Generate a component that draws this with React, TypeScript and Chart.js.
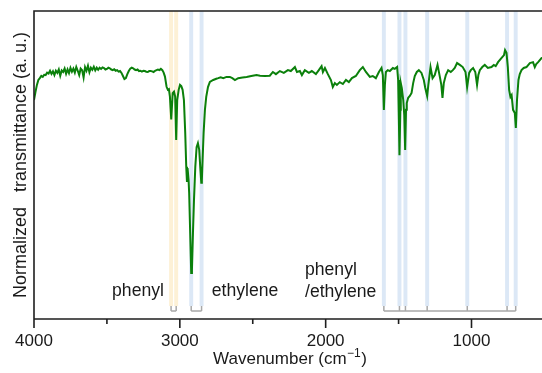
import React, { useEffect, useRef } from "react";
import { Chart, registerables } from "chart.js";
Chart.register(...registerables);

const wavenumbers = [
  4000, 3990, 3980, 3970, 3960, 3950, 3940, 3930, 3920, 3910, 3900, 3890, 3880, 3870, 3860, 3850, 3840, 3830, 3820, 3810,
  3800, 3790, 3780, 3770, 3760, 3750, 3740, 3730, 3720, 3710, 3700, 3690, 3680, 3670, 3660, 3650, 3640, 3630, 3620, 3610,
  3600, 3590, 3580, 3570, 3560, 3550, 3540, 3530, 3520, 3510, 3500, 3490, 3480, 3470, 3460, 3450, 3440, 3430, 3420, 3410,
  3400, 3390, 3380, 3370, 3360, 3350, 3340, 3330, 3320, 3310, 3300, 3290, 3280, 3270, 3260, 3250, 3240, 3230, 3220, 3210,
  3200, 3190, 3180, 3170, 3160, 3150, 3140, 3130, 3120, 3111, 3102, 3091, 3082, 3075, 3068, 3059, 3049, 3040, 3032, 3025,
  3018, 3008, 2999, 2990, 2981, 2972, 2963, 2956, 2951, 2947, 2940, 2936, 2929, 2922, 2917, 2910, 2903, 2894, 2885, 2876,
  2867, 2860, 2853, 2849, 2844, 2837, 2828, 2819, 2807, 2794, 2771, 2750, 2737, 2720, 2702, 2680, 2657, 2640, 2622, 2600,
  2570, 2542, 2510, 2474, 2450, 2417, 2383, 2362, 2341, 2314, 2287, 2259, 2239, 2211, 2197, 2177, 2163, 2143, 2115, 2095,
  2067, 2047, 2028, 2019, 2005, 1985, 1964, 1951, 1937, 1923, 1903, 1882, 1861, 1841, 1820, 1793, 1766, 1745, 1724, 1697,
  1677, 1656, 1635, 1617, 1608, 1601, 1594, 1587, 1574, 1560, 1539, 1526, 1510, 1503, 1498, 1494, 1488, 1485, 1478, 1468,
  1461, 1455, 1449, 1444, 1434, 1423, 1411, 1400, 1389, 1375, 1361, 1343, 1327, 1317, 1304, 1296, 1281, 1267, 1252, 1233,
  1217, 1207, 1199, 1190, 1176, 1160, 1142, 1128, 1115, 1099, 1080, 1060, 1041, 1030, 1016, 1005, 989, 974, 962, 953,
  943, 926, 909, 888, 863, 847, 834, 818, 795, 777, 770, 760, 751, 742, 733, 725, 715, 703, 696, 688,
  678, 669, 657, 642, 623, 600, 578, 566, 556, 543, 520, 500, 460, 420, 400,
];

const transmittance = [
  71.1, 73.7, 76.0, 77.6, 78.2, 78.9, 78.6, 79.3, 79.2, 80.0, 79.7, 80.6, 79.6, 80.4, 79.2, 80.6, 79.9, 81.0, 79.0, 80.7,
  80.2, 81.3, 79.6, 81.0, 79.8, 81.5, 80.3, 81.3, 80.0, 81.8, 80.6, 79.2, 81.3, 80.8, 78.4, 81.8, 80.6, 82.2, 80.1, 81.6,
  80.9, 81.9, 80.7, 81.6, 80.9, 81.6, 81.2, 81.7, 81.5, 81.0, 81.2, 81.6, 81.4, 81.0, 80.8, 81.1, 80.6, 80.8, 80.3, 80.5,
  79.9, 78.9, 77.9, 78.2, 79.5, 80.5, 81.3, 81.6, 81.4, 81.0, 80.8, 81.0, 80.5, 80.6, 80.3, 80.6, 80.5, 80.3, 80.2, 80.5,
  80.5, 80.4, 80.2, 80.6, 80.8, 81.0, 80.8, 81.2, 80.8, 80.0, 78.7, 75.4, 74.4, 74.6, 72.2, 64.8, 73.3, 73.8, 72.2, 58.1,
  71.1, 74.4, 76.0, 75.6, 74.4, 71.1, 60.4, 49.4, 44.5, 49.0, 45.1, 40.9, 27.9, 14.9, 15.9, 27.9, 38.6, 49.4, 55.8, 57.1,
  54.9, 49.4, 44.2, 45.1, 51.6, 60.4, 67.9, 72.1, 75.3, 77.0, 77.6, 78.0, 78.2, 78.5, 78.2, 78.6, 78.6, 78.2, 77.6, 78.2,
  78.4, 78.6, 78.9, 79.2, 79.0, 78.9, 79.0, 80.2, 79.5, 80.5, 79.9, 80.8, 80.5, 81.8, 80.2, 80.5, 79.2, 80.8, 79.9, 80.5,
  79.5, 80.8, 82.1, 80.2, 81.5, 79.5, 77.6, 75.3, 76.6, 76.0, 76.9, 76.3, 77.6, 76.9, 78.2, 78.9, 80.8, 81.8, 80.2, 78.6,
  78.9, 78.2, 80.2, 81.5, 79.2, 67.9, 76.0, 80.2, 80.8, 80.5, 81.5, 81.2, 81.8, 77.6, 64.6, 53.2, 67.9, 76.6, 75.0, 71.1,
  66.2, 54.9, 67.9, 70.1, 71.8, 72.4, 73.4, 76.6, 78.9, 80.2, 80.8, 79.9, 77.6, 75.0, 72.4, 76.0, 81.8, 78.2, 79.2, 82.5,
  78.6, 76.0, 71.8, 76.6, 79.2, 80.8, 80.2, 80.8, 81.5, 83.1, 82.5, 81.8, 80.2, 75.3, 79.9, 80.8, 81.5, 80.2, 76.0, 79.2,
  80.8, 81.8, 82.5, 81.5, 81.8, 82.5, 82.1, 83.4, 84.7, 85.7, 87.3, 86.4, 81.8, 74.4, 72.1, 72.7, 67.9, 66.9, 62.0, 71.1,
  77.6, 79.5, 80.8, 81.5, 81.8, 83.1, 83.4, 81.8, 82.8, 83.4, 84.7, 84.5, 85.0, 85.2, 85.0,
];

const phenylBands = [3060, 3025];
const ethyleneBands = [2922, 2851];
const mixedBands = [1601, 1494, 1453, 1304, 1029, 756, 697];
const majorTicks = [4000, 3000, 2000, 1000];
const minorTicks = [3500, 2500, 1500, 500];
const xTitleMain = "Wavenumber (cm";
const xTitleSup = "\u22121";
const xTitleEnd = ")";
const yTitle = "Normalized   transmittance (a. u.)";
const labelPhenyl = "phenyl";
const labelEthylene = "ethylene";
const labelMixed = ["phenyl", "/ethylene"];

const FONT = '"Liberation Sans", Arial, Helvetica, sans-serif';
const BAND_HALF = 13.5;
const BAND_BOTTOM = 4.2;
const BRACKET_Y = 2.6;

const bandsPlugin = {
  id: "bands",
  beforeDatasetsDraw(chart: any) {
    const { ctx, chartArea, scales } = chart;
    const x = scales.x;
    const y = scales.y;
    const bottom = y.getPixelForValue(BAND_BOTTOM);
    const by = y.getPixelForValue(BRACKET_Y);
    ctx.save();
    const band = (wn: number, color: string) => {
      const l = x.getPixelForValue(wn + BAND_HALF);
      const r = x.getPixelForValue(wn - BAND_HALF);
      ctx.fillStyle = color;
      ctx.fillRect(l, chartArea.top, r - l, bottom - chartArea.top);
    };
    phenylBands.forEach((b) => band(b, "#fdf1d6"));
    ethyleneBands.forEach((b) => band(b, "#dce8f6"));
    mixedBands.forEach((b) => band(b, "#dce8f6"));
    const bracket = (bands: number[]) => {
      const xs = bands.map((b) => x.getPixelForValue(b));
      ctx.beginPath();
      ctx.moveTo(xs[0], by);
      ctx.lineTo(xs[xs.length - 1], by);
      xs.forEach((px) => {
        ctx.moveTo(px, bottom);
        ctx.lineTo(px, by);
      });
      ctx.strokeStyle = "#a8a8a8";
      ctx.lineWidth = 1.5;
      ctx.stroke();
    };
    bracket(phenylBands);
    bracket(ethyleneBands);
    bracket(mixedBands);
    ctx.restore();
  },
  afterDraw(chart: any) {
    const { ctx, chartArea, scales } = chart;
    const x = scales.x;
    const { left, right, top, bottom } = chartArea;
    ctx.save();
    ctx.strokeStyle = "#1e1e1e";
    ctx.lineWidth = 1.6;
    ctx.beginPath();
    ctx.moveTo(left, bottom);
    ctx.lineTo(left, top);
    ctx.lineTo(right, top);
    ctx.lineTo(right, bottom);
    ctx.lineTo(left, bottom);
    ctx.stroke();
    ctx.beginPath();
    majorTicks.forEach((t) => {
      const px = x.getPixelForValue(t);
      ctx.moveTo(px, bottom);
      ctx.lineTo(px, bottom + 9);
    });
    minorTicks.forEach((t) => {
      const px = x.getPixelForValue(t);
      ctx.moveTo(px, bottom);
      ctx.lineTo(px, bottom + 5);
    });
    ctx.stroke();

    ctx.fillStyle = "#1a1a1a";
    ctx.textBaseline = "alphabetic";
    ctx.font = `17.6px ${FONT}`;
    ctx.textAlign = "center";
    ctx.fillText(labelPhenyl, 138, 296);
    ctx.fillText(labelEthylene, 245, 296);
    ctx.textAlign = "left";
    ctx.fillText(labelMixed[0], 305, 275);
    ctx.fillText(labelMixed[1], 305, 297);

    // x title
    ctx.font = `17px ${FONT}`;
    const w1 = ctx.measureText(xTitleMain).width;
    ctx.font = `12px ${FONT}`;
    const w2 = ctx.measureText(xTitleSup).width;
    ctx.font = `17px ${FONT}`;
    const w3 = ctx.measureText(xTitleEnd).width;
    const total = w1 + w2 + w3 + 1;
    let sx = 290 - total / 2;
    const base = 364;
    ctx.fillText(xTitleMain, sx, base);
    sx += w1 + 0.5;
    ctx.font = `12px ${FONT}`;
    ctx.fillText(xTitleSup, sx, base - 7);
    sx += w2 + 0.5;
    ctx.font = `17px ${FONT}`;
    ctx.fillText(xTitleEnd, sx, base);

    // y title
    ctx.save();
    ctx.translate(26, (top + bottom) / 2);
    ctx.rotate(-Math.PI / 2);
    ctx.textAlign = "center";
    ctx.font = `18px ${FONT}`;
    ctx.fillText(yTitle, 0, 0);
    ctx.restore();
    ctx.restore();
  },
};

export default function App() {
  const ref = useRef<HTMLCanvasElement | null>(null);
  useEffect(() => {
    document.body.style.margin = "0";
    const canvas = ref.current;
    if (!canvas) return;
    const points = wavenumbers.map((w, i) => ({ x: w, y: transmittance[i] }));
    const chart = new Chart(canvas, {
      type: "line",
      data: {
        datasets: [
          {
            data: points,
            borderColor: "#0b800b",
            borderWidth: 2,
            pointRadius: 0,
            tension: 0,
            fill: false,
          },
        ],
      },
      options: {
        responsive: false,
        animation: false,
        devicePixelRatio: 1,
        layout: { padding: { left: 34, right: 1, top: 11, bottom: 0 } },
        plugins: { legend: { display: false }, tooltip: { enabled: false }, title: { display: false } },
        scales: {
          x: {
            type: "linear",
            reverse: true,
            min: 400,
            max: 4000,
            grid: { display: false, drawTicks: false },
            border: { display: false },
            afterBuildTicks: (scale: any) => {
              scale.ticks = majorTicks.map((v) => ({ value: v }));
            },
            afterFit: (scale: any) => {
              scale.height = 54;
            },
            ticks: {
              autoSkip: false,
              maxRotation: 0,
              padding: 12,
              color: "#1a1a1a",
              font: { family: FONT, size: 17 },
              callback: (v: any) => String(v),
            },
          },
          y: {
            type: "linear",
            min: 0,
            max: 100,
            display: false,
          },
        },
      },
      plugins: [bandsPlugin],
    });
    return () => chart.destroy();
  }, []);
  return (
    <div style={{ width: 542, height: 373, overflow: "hidden", position: "relative" }}>
      <canvas ref={ref} width={560} height={373} style={{ width: 560, height: 373, display: "block" }} />
    </div>
  );
}
